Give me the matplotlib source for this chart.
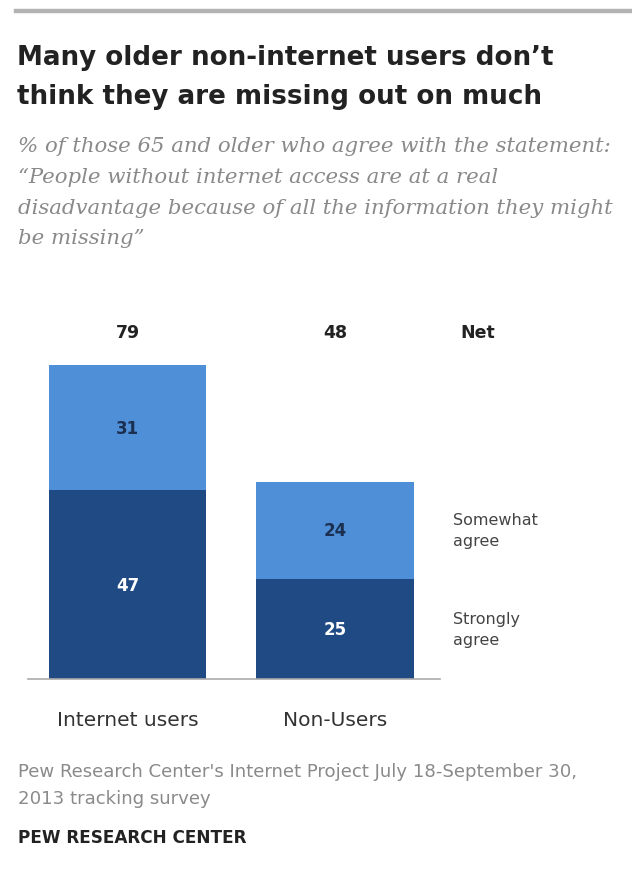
import matplotlib.pyplot as plt
from matplotlib.lines import Line2D

# data
categories = ["Internet users", "Non-Users"]
strongly_agree = [47, 25]
somewhat_agree = [31, 24]
net_values = [79, 48]

DARK = "#1f4a83"
LIGHT = "#4f8fd8"
TEXT_DARK = "#222222"
GRAY = "#8a8a8a"

W, H = 632, 879


def fx(px):
    return px / W


def fy(py):
    return 1 - py / H


def main():
    fig = plt.figure(figsize=(W / 100, H / 100), dpi=100)
    fig.patch.set_facecolor("white")

    # top rule
    fig.add_artist(Line2D([fx(16), 1.0], [fy(12), fy(12)], color="#b3b3b3", lw=3.2,
                          transform=fig.transFigure))

    # title
    fig.text(fx(17), fy(58), "Many older non-internet users don\u2019t", fontsize=18.8,
             fontweight="bold", color=TEXT_DARK, va="center")
    fig.text(fx(17), fy(97), "think they are missing out on much", fontsize=18.8,
             fontweight="bold", color=TEXT_DARK, va="center")

    # subtitle
    sub = ["% of those 65 and older who agree with the statement:",
           "\u201cPeople without internet access are at a real",
           "disadvantage because of all the information they might",
           "be missing\u201d"]
    for i, line in enumerate(sub):
        fig.text(fx(18), fy(146 + i * 31), line, fontsize=15.3, style="italic",
                 family="DejaVu Serif", color=GRAY, va="center")

    # main axes
    ax = fig.add_axes([fx(28), fy(680), fx(440) - fx(28), fy(278) - fy(680)])
    x = range(len(categories))
    width = 0.757
    ax.bar(x, strongly_agree, width=width, color=DARK)
    ax.bar(x, somewhat_agree, width=width, bottom=strongly_agree, color=LIGHT)
    ax.set_xlim(-0.4795, 1.506)
    ax.set_ylim(0, 100)

    for i in x:
        ax.text(i, strongly_agree[i] / 2, str(strongly_agree[i]), ha="center", va="center",
                color="white", fontsize=12, fontweight="bold")
        ax.text(i, strongly_agree[i] + somewhat_agree[i] / 2, str(somewhat_agree[i]),
                ha="center", va="center", color="#1b2f50", fontsize=12, fontweight="bold")
        ax.text(i, 86.3, str(net_values[i]), ha="center", va="center", color=TEXT_DARK,
                fontsize=12.5, fontweight="bold", clip_on=False)
    ax.text(1.689, 86.3, "Net", ha="center", va="center", color=TEXT_DARK,
            fontsize=12.5, fontweight="bold", clip_on=False)

    # series labels next to the last bar
    last = len(categories) - 1
    ax.text(1.569, strongly_agree[last] + somewhat_agree[last] / 2, "Somewhat\nagree",
            ha="left", va="center", color="#444444", fontsize=11.5, linespacing=1.5,
            clip_on=False)
    ax.text(1.569, strongly_agree[last] / 2, "Strongly\nagree", ha="left", va="center",
            color="#444444", fontsize=11.5, linespacing=1.5, clip_on=False)

    ax.set_xticks(list(x))
    ax.set_xticklabels(categories, fontsize=14.5, color="#333333")
    ax.tick_params(axis="x", length=0, pad=22)
    ax.set_yticks([])
    for s in ["top", "right", "left"]:
        ax.spines[s].set_visible(False)
    ax.spines["bottom"].set_color("#aaaaaa")
    ax.spines["bottom"].set_linewidth(1.2)

    # source and logo
    fig.text(fx(18), fy(772), "Pew Research Center's Internet Project July 18-September 30,",
             fontsize=13.1, color=GRAY, va="center")
    fig.text(fx(18), fy(799), "2013 tracking survey", fontsize=13.1, color=GRAY, va="center")
    fig.text(fx(18), fy(838), "PEW RESEARCH CENTER", fontsize=12.2, fontweight="bold",
             color=TEXT_DARK, va="center")

    fig.savefig("out.png", dpi=100, facecolor="white")
    plt.close(fig)


if __name__ == "__main__":
    main()
